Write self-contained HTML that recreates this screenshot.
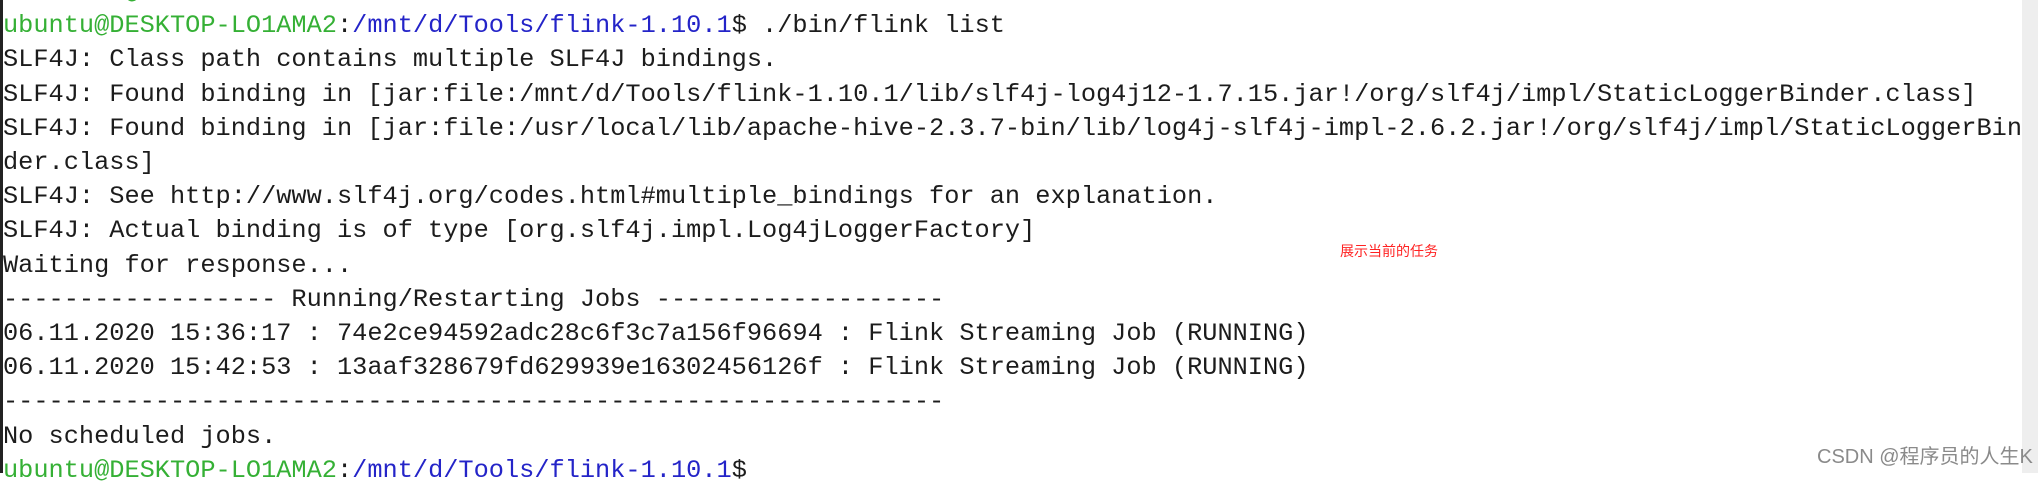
<!DOCTYPE html>
<html><head><meta charset="utf-8"><style>
html,body{margin:0;padding:0;background:#fff;}
body{width:2038px;height:473px;position:relative;overflow:hidden;}
#t{position:absolute;left:3px;top:-25px;font-family:"Liberation Mono",monospace;font-size:25.3px;line-height:34.2px;color:#1c1c1c;white-space:pre;}
.g{color:#35b035}.b{color:#2424c8}
#bar{position:absolute;left:0;top:0;width:3px;height:473px;background:#222;}
#red{position:absolute;left:1340px;top:241px;font-family:"Noto Sans CJK SC",sans-serif;font-size:14px;color:#f22;}
#wm{position:absolute;left:1817px;top:440px;font-family:"Liberation Sans","Noto Sans CJK SC",sans-serif;font-size:20px;color:#8a8a8a;}
#strip{position:absolute;left:2022px;top:0;width:16px;height:473px;background:#eeeeee;}
</style></head><body>
<div id="t"><span class="g">^Cubuntu@DESKTOP-LO1AMA2</span>:<span class="b">/mnt/d/Tools/flink-1.10.1</span>$ ^C
<span class="g">ubuntu@DESKTOP-LO1AMA2</span>:<span class="b">/mnt/d/Tools/flink-1.10.1</span>$ ./bin/flink list
SLF4J: Class path contains multiple SLF4J bindings.
SLF4J: Found binding in [jar:file:/mnt/d/Tools/flink-1.10.1/lib/slf4j-log4j12-1.7.15.jar!/org/slf4j/impl/StaticLoggerBinder.class]
SLF4J: Found binding in [jar:file:/usr/local/lib/apache-hive-2.3.7-bin/lib/log4j-slf4j-impl-2.6.2.jar!/org/slf4j/impl/StaticLoggerBin
der.class]
SLF4J: See http://www.slf4j.org/codes.html#multiple_bindings for an explanation.
SLF4J: Actual binding is of type [org.slf4j.impl.Log4jLoggerFactory]
Waiting for response...
------------------ Running/Restarting Jobs -------------------
06.11.2020 15:36:17 : 74e2ce94592adc28c6f3c7a156f96694 : Flink Streaming Job (RUNNING)
06.11.2020 15:42:53 : 13aaf328679fd629939e16302456126f : Flink Streaming Job (RUNNING)
--------------------------------------------------------------
No scheduled jobs.
<span class="g">ubuntu@DESKTOP-LO1AMA2</span>:<span class="b">/mnt/d/Tools/flink-1.10.1</span>$</div>
<div id="bar"></div>
<div id="red">展示当前的任务</div>
<div id="strip"></div>
<div id="wm">CSDN @程序员的人生K</div>
</body></html>
